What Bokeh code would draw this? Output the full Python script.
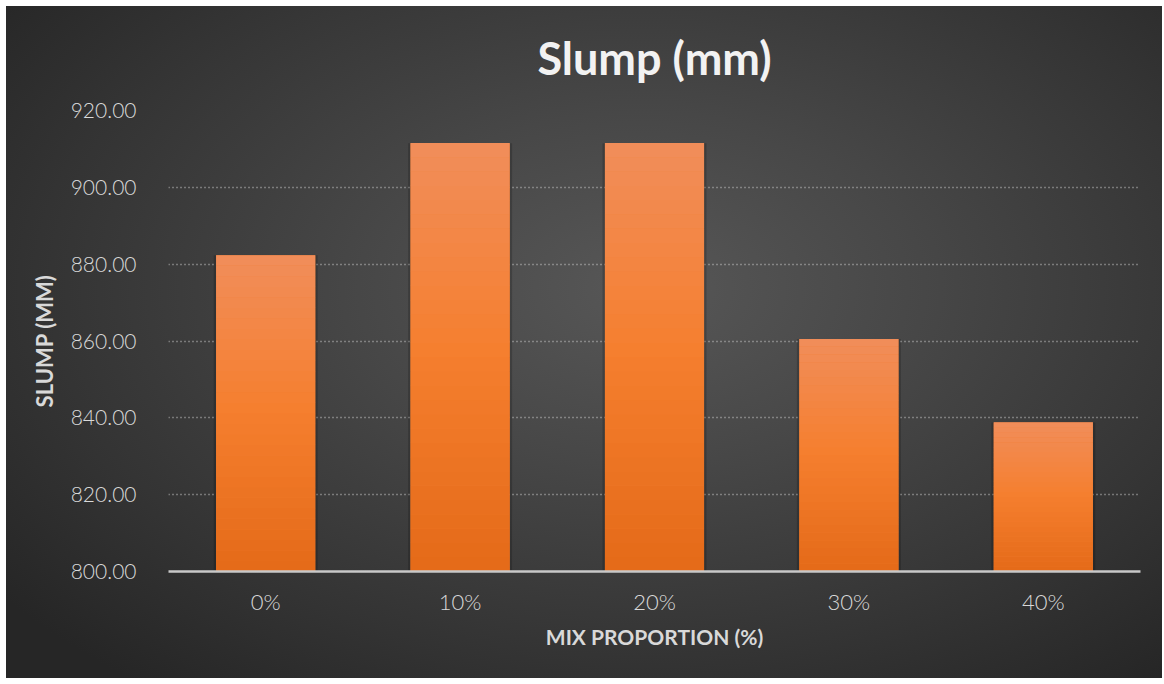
from bokeh.plotting import figure
from bokeh.models import FactorRange, Range1d, FixedTicker, NumeralTickFormatter, InlineStyleSheet, CategoricalAxis, ColumnDataSource
from bokeh.embed import file_html
from bokeh.resources import INLINE

title_text = "Slump (mm)"
categories = ["0%", "10%", "20%", "30%", "40%"]
slump = [882.3, 911.5, 911.5, 860.5, 838.8]
y_ticks = [800, 820, 840, 860, 880, 900, 920]
y_min, y_max = 800, 920

FONT = "Lato Light, Lato"
BFONT = "Lato"

p = figure(x_range=FactorRange(*categories, range_padding=0),
           y_range=Range1d(y_min, y_max),
           frame_width=972, frame_height=461,
           min_border_left=162, min_border_right=22,
           min_border_top=104, min_border_bottom=107,
           output_backend="svg", toolbar_location=None, tools="")
p.margin = (6, 0, 0, 6)

p.stylesheets = [InlineStyleSheet(css=""":host { background: radial-gradient(ellipse 70% 75% at 55% 42%, #575757 0%, #474747 35%, #333333 75%, #262626 100%); }""")]
p.background_fill_alpha = 0
p.border_fill_alpha = 0
p.outline_line_color = None

# chart title drawn as the label of a bare, tick-less axis above the frame
top_axis = CategoricalAxis(ticker=FixedTicker(ticks=[]), axis_label=title_text, axis_line_color=None,
                           major_tick_line_color=None, minor_tick_line_color=None,
                           major_label_standoff=0,
                           axis_label_text_font=BFONT, axis_label_text_font_size="45px",
                           axis_label_text_font_style="bold", axis_label_text_color="#f2f2f2",
                           axis_label_standoff=26)
p.add_layout(top_axis, "above")

# shadow
p.vbar(x=categories, top=slump, bottom=y_min, width=0.535, fill_color="black",
       fill_alpha=0.18, line_color=None)

# main bars
p.vbar(x=categories, top=slump, bottom=y_min, width=0.51, fill_color="#f27e32", line_color=None)

# vertical gradient overlay built from data values
def lerp(c1, c2, t):
    return tuple(int(round(a + (b - a) * t)) for a, b in zip(c1, c2))

top_c = (241, 142, 90)
mid_c = (245, 126, 46)
bot_c = (228, 106, 24)
N = 30
xs, tops, bots, cols = [], [], [], []
for cat, v in zip(categories, slump):
    for i in range(N):
        f0 = i / N
        f1 = (i + 1) / N
        fm = (f0 + f1) / 2  # 0 bottom -> 1 top
        if fm < 0.5:
            c = lerp(bot_c, mid_c, fm / 0.5)
        else:
            c = lerp(mid_c, top_c, (fm - 0.5) / 0.5)
        xs.append(cat)
        bots.append(y_min + (v - y_min) * f0)
        tops.append(y_min + (v - y_min) * f1 + 0.05)
        cols.append("#%02x%02x%02x" % c)
src = ColumnDataSource(dict(x=xs, top=tops, bottom=bots, color=cols))
p.vbar(x="x", top="top", bottom="bottom", width=0.51, fill_color="color", line_color=None, source=src)

# axes
p.yaxis.ticker = FixedTicker(ticks=y_ticks)
p.yaxis.formatter = NumeralTickFormatter(format="0.00")
p.yaxis.axis_line_color = None
p.yaxis.major_tick_line_color = None
p.yaxis.minor_tick_line_color = None
p.yaxis.major_label_text_font = FONT
p.yaxis.major_label_text_font_size = "21px"
p.yaxis.major_label_text_color = "#d9d9d9"
p.yaxis.major_label_standoff = 26
p.yaxis.axis_label = "SLUMP (MM)"
p.yaxis.axis_label_text_font = BFONT
p.yaxis.axis_label_text_font_size = "22px"
p.yaxis.axis_label_text_font_style = "bold"
p.yaxis.axis_label_text_color = "#d9d9d9"
p.yaxis.axis_label_standoff = 10

bottom_axis = p.below[0]
bottom_axis.axis_line_color = "#c8c8c8"
bottom_axis.axis_line_width = 2.5
bottom_axis.major_tick_line_color = None
bottom_axis.minor_tick_line_color = None
bottom_axis.major_label_text_font = FONT
bottom_axis.major_label_text_font_size = "22px"
bottom_axis.major_label_text_color = "#d9d9d9"
bottom_axis.major_label_standoff = 10
bottom_axis.axis_label = "MIX PROPORTION (%)"
bottom_axis.axis_label_text_font = BFONT
bottom_axis.axis_label_text_font_size = "21px"
bottom_axis.axis_label_text_font_style = "bold"
bottom_axis.axis_label_text_color = "#d9d9d9"
bottom_axis.axis_label_standoff = 6

p.xgrid.grid_line_color = None
p.ygrid.grid_line_color = "#d0d0d0"
p.ygrid.grid_line_alpha = 0.85
p.ygrid.grid_line_dash = "1 3"
p.ygrid.grid_line_width = 1.3

open("out.html", "w").write(file_html(p, INLINE))
